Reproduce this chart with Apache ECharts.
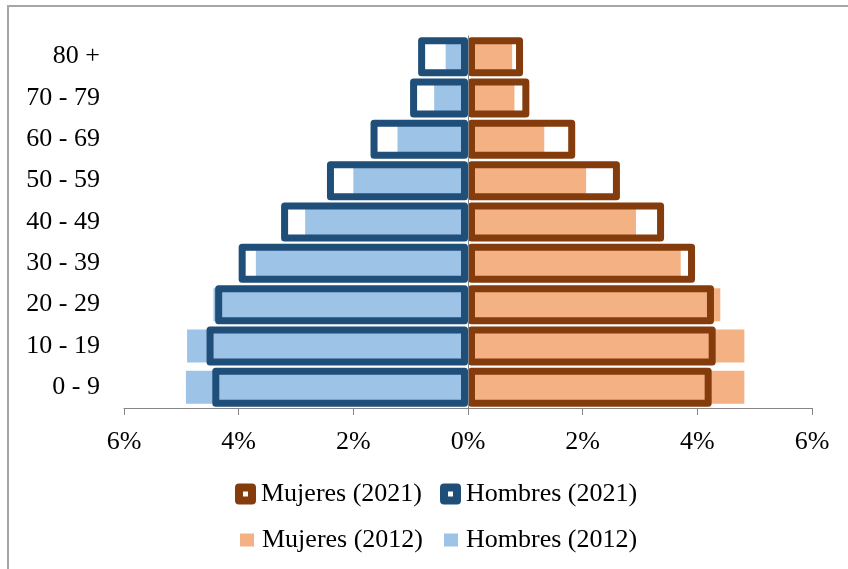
<!DOCTYPE html>
<html>
<head>
<meta charset="utf-8">
<script src="https://cdn.jsdelivr.net/npm/echarts@6/dist/echarts.min.js"></script>
<style>
  html, body { margin: 0; padding: 0; background: #fff; overflow: hidden; }
  #frame { position: absolute; left: 7px; top: 5px; width: 900px; height: 620px;
           border: 2px solid #A6A6A6; box-sizing: border-box; }
  #chart { position: absolute; left: 0; top: 0; width: 848px; height: 569px; }
</style>
</head>
<body>
<div id="frame"></div>
<div id="chart"></div>
<script>
// Age groups, bottom to top
const ageGroups = ['0 - 9', '10 - 19', '20 - 29', '30 - 39', '40 - 49', '50 - 59', '60 - 69', '70 - 79', '80 +'];

// Share of total population (%), by sex and year
const hombres2012 = [4.92, 4.90, 4.44, 3.70, 2.84, 2.00, 1.23, 0.59, 0.39];
const mujeres2012 = [4.82, 4.82, 4.40, 3.71, 2.93, 2.06, 1.33, 0.81, 0.77];
const hombres2021 = [4.46, 4.56, 4.41, 4.00, 3.26, 2.46, 1.70, 1.01, 0.87];
const mujeres2021 = [4.25, 4.32, 4.29, 3.96, 3.42, 2.65, 1.87, 1.07, 0.96];

// Axis ticks (%)
const axisMin = -6, axisMax = 6, axisStep = 2;

const FONT = "'Liberation Serif', 'Times New Roman', serif";
const C_H12 = '#9DC3E6', C_M12 = '#F4B183', C_H21 = '#1F4E79', C_M21 = '#843C0C';

const chart = echarts.init(document.getElementById('chart'), null, { renderer: 'canvas' });

const neg = arr => arr.map(v => -v);

chart.setOption({
  animation: false,
  backgroundColor: 'transparent',
  textStyle: { fontFamily: FONT },
  grid: { left: 124, right: 36, top: 36, bottom: 161, containLabel: false },
  xAxis: {
    type: 'value', min: axisMin, max: axisMax, interval: axisStep,
    axisLine: { show: true, lineStyle: { color: '#868686', width: 1 } },
    axisTick: { show: true, length: 7, lineStyle: { color: '#868686' } },
    splitLine: { show: false },
    axisLabel: {
      margin: 21, color: '#000', fontFamily: FONT, fontSize: 26,
      formatter: v => Math.abs(v) + '%'
    }
  },
  yAxis: [
    {
      type: 'category', data: ageGroups, position: 'left',
      axisLine: { show: false, onZero: false },
      axisTick: { show: false },
      axisLabel: { margin: 24, color: '#000', fontFamily: FONT, fontSize: 26, padding: [3, 0, 0, 0] }
    },
    {
      // zero line drawn above the bars
      type: 'category', data: ageGroups, position: 'right', z: 10,
      axisLine: { show: true, onZero: true, lineStyle: { color: '#868686', width: 1 } },
      axisTick: { show: false },
      axisLabel: { show: false }
    }
  ],
  legend: [
    {
      left: 235, top: 481, padding: 0, itemGap: 18,
      itemWidth: 13, itemHeight: 13, icon: 'rect',
      textStyle: { color: '#000', fontFamily: FONT, fontSize: 26, padding: [0, 0, 0, 4] },
      data: [
        { name: 'Mujeres (2021)', itemStyle: { color: '#fff', borderColor: C_M21, borderWidth: 8, borderJoin: 'round' } },
        { name: 'Hombres (2021)', itemStyle: { color: '#fff', borderColor: C_H21, borderWidth: 8, borderJoin: 'round' } }
      ]
    },
    {
      left: 240, top: 527, padding: 0, itemGap: 21,
      itemWidth: 14, itemHeight: 13, icon: 'rect',
      textStyle: { color: '#000', fontFamily: FONT, fontSize: 26, padding: [0, 0, 0, 3] },
      data: ['Mujeres (2012)', 'Hombres (2012)']
    }
  ],
  series: [
    {
      name: 'Hombres (2012)', type: 'bar', yAxisIndex: 0, data: neg(hombres2012),
      barWidth: 33, barGap: '-100%', itemStyle: { color: C_H12 }
    },
    {
      name: 'Mujeres (2012)', type: 'bar', yAxisIndex: 0, data: mujeres2012,
      barWidth: 33, barGap: '-100%', itemStyle: { color: C_M12 }
    },
    {
      name: 'Hombres (2021)', type: 'bar', yAxisIndex: 1, data: neg(hombres2021),
      barWidth: 39, barGap: '-100%',
      itemStyle: { color: 'rgba(255,255,255,0)', borderColor: C_H21, borderWidth: 7, borderJoin: 'round' }
    },
    {
      name: 'Mujeres (2021)', type: 'bar', yAxisIndex: 1, data: mujeres2021,
      barWidth: 39, barGap: '-100%',
      itemStyle: { color: 'rgba(255,255,255,0)', borderColor: C_M21, borderWidth: 7, borderJoin: 'round' }
    }
  ]
});
</script>
</body>
</html>
